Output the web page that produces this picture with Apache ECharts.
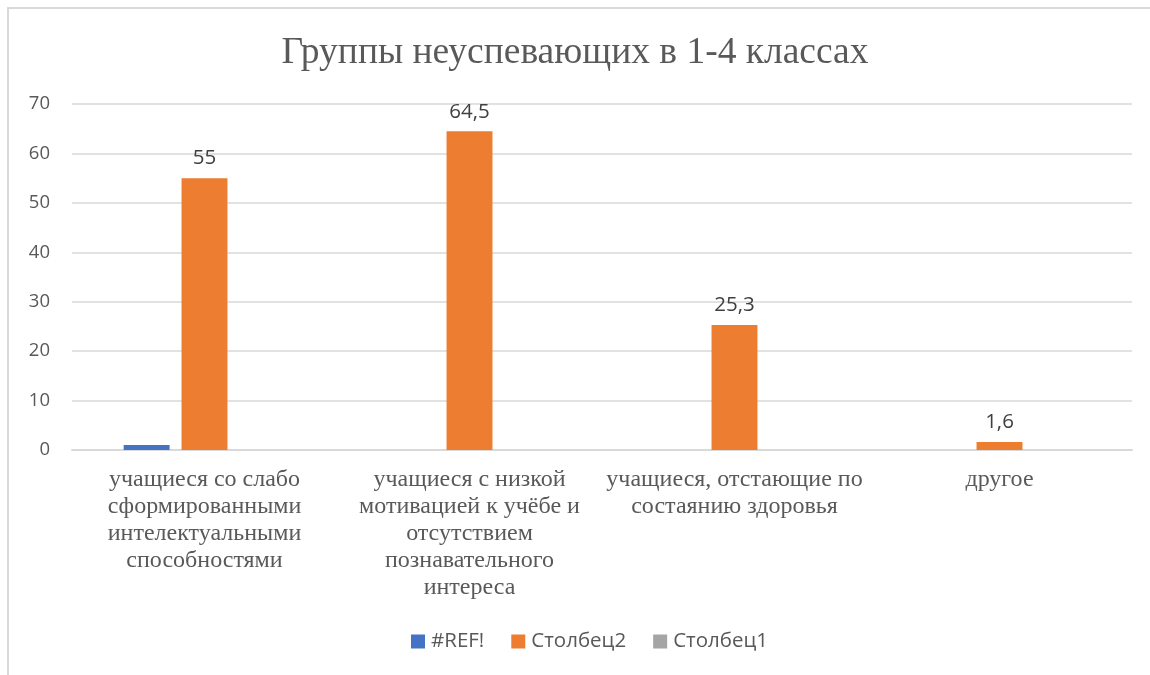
<!DOCTYPE html>
<html>
<head>
<meta charset="utf-8">
<script src="https://cdn.jsdelivr.net/npm/echarts@6/dist/echarts.min.js"></script>
<style>
  html, body { margin: 0; padding: 0; background: #fff; }
  #frame { position: absolute; left: 7px; top: 7px; width: 1200px; height: 700px; border: 2px solid #d9d9d9; }
  #chart { position: absolute; left: 0; top: 0; width: 1150px; height: 675px; }
</style>
</head>
<body>
<div id="frame"></div>
<div id="chart"></div>
<script>
// группы неуспевающих
var categories = [
    'учащиеся со слабо\nсформированными\nинтелектуальными\nспособностями',
    'учащиеся с низкой\nмотивацией к учёбе и\nотсутствием\nпознавательного\nинтереса',
    'учащиеся, отстающие по\nсостаянию здоровья',
    'другое'
];
var refValues = [1, 0, 0, 0];
var col2Values = [55, 64.5, 25.3, 1.6];
var col1Values = [0, 0, 0, 0];
var yTicks = [0, 10, 20, 30, 40, 50, 60, 70];

var myChart = echarts.init(document.getElementById('chart'));

option = {
    backgroundColor: 'transparent',
    title: {
        text: 'Группы неуспевающих в 1-4 классах',
        left: 'center',
        top: 29,
        textStyle: {
            fontFamily: 'Liberation Serif',
            fontWeight: 'normal',
            fontSize: 37.5,
            color: '#595959'
        }
    },
    legend: {
        bottom: 18,
        left: 406,
        itemWidth: 14,
        itemHeight: 14,
        itemGap: 27,
        icon: 'rect',
        textStyle: {
            fontFamily: 'Open Sans',
            fontSize: 20.5,
            color: '#595959',
            padding: [0, 0, 0, 1]
        },
        data: ['#REF!', 'Столбец2', 'Столбец1']
    },
    grid: {
        left: 72,
        right: 18,
        top: 104,
        bottom: 225
    },
    xAxis: {
        type: 'category',
        data: categories,
        axisLine: { lineStyle: { color: '#d9d9d9', width: 2 } },
        axisTick: { show: false },
        axisLabel: {
            interval: 0,
            margin: 16,
            fontFamily: 'Liberation Serif',
            fontSize: 24,
            lineHeight: 27,
            color: '#595959'
        }
    },
    yAxis: {
        type: 'value',
        min: yTicks[0],
        max: yTicks[yTicks.length - 1],
        interval: 10,
        axisLine: { show: false },
        axisTick: { show: false },
        axisLabel: {
            margin: 22,
            fontFamily: 'Open Sans',
            fontSize: 18.5,
            color: '#595959'
        },
        splitLine: { lineStyle: { color: '#d9d9d9', width: 1.5 } }
    },
    series: [
        {
            name: '#REF!',
            type: 'bar',
            data: refValues,
            barGap: '26%',
            barCategoryGap: '39%',
            itemStyle: { color: '#4472c4' }
        },
        {
            name: 'Столбец2',
            type: 'bar',
            data: col2Values,
            itemStyle: { color: '#ed7d31' },
            label: {
                show: true,
                position: 'top',
                distance: 9,
                fontFamily: 'Open Sans',
                fontSize: 20.5,
                color: '#404040',
                formatter: function (p) {
                    return String(p.value).replace('.', ',');
                }
            }
        },
        {
            name: 'Столбец1',
            type: 'bar',
            data: col1Values,
            itemStyle: { color: '#a5a5a5' }
        }
    ]
};

myChart.setOption(option);
</script>
</body>
</html>
